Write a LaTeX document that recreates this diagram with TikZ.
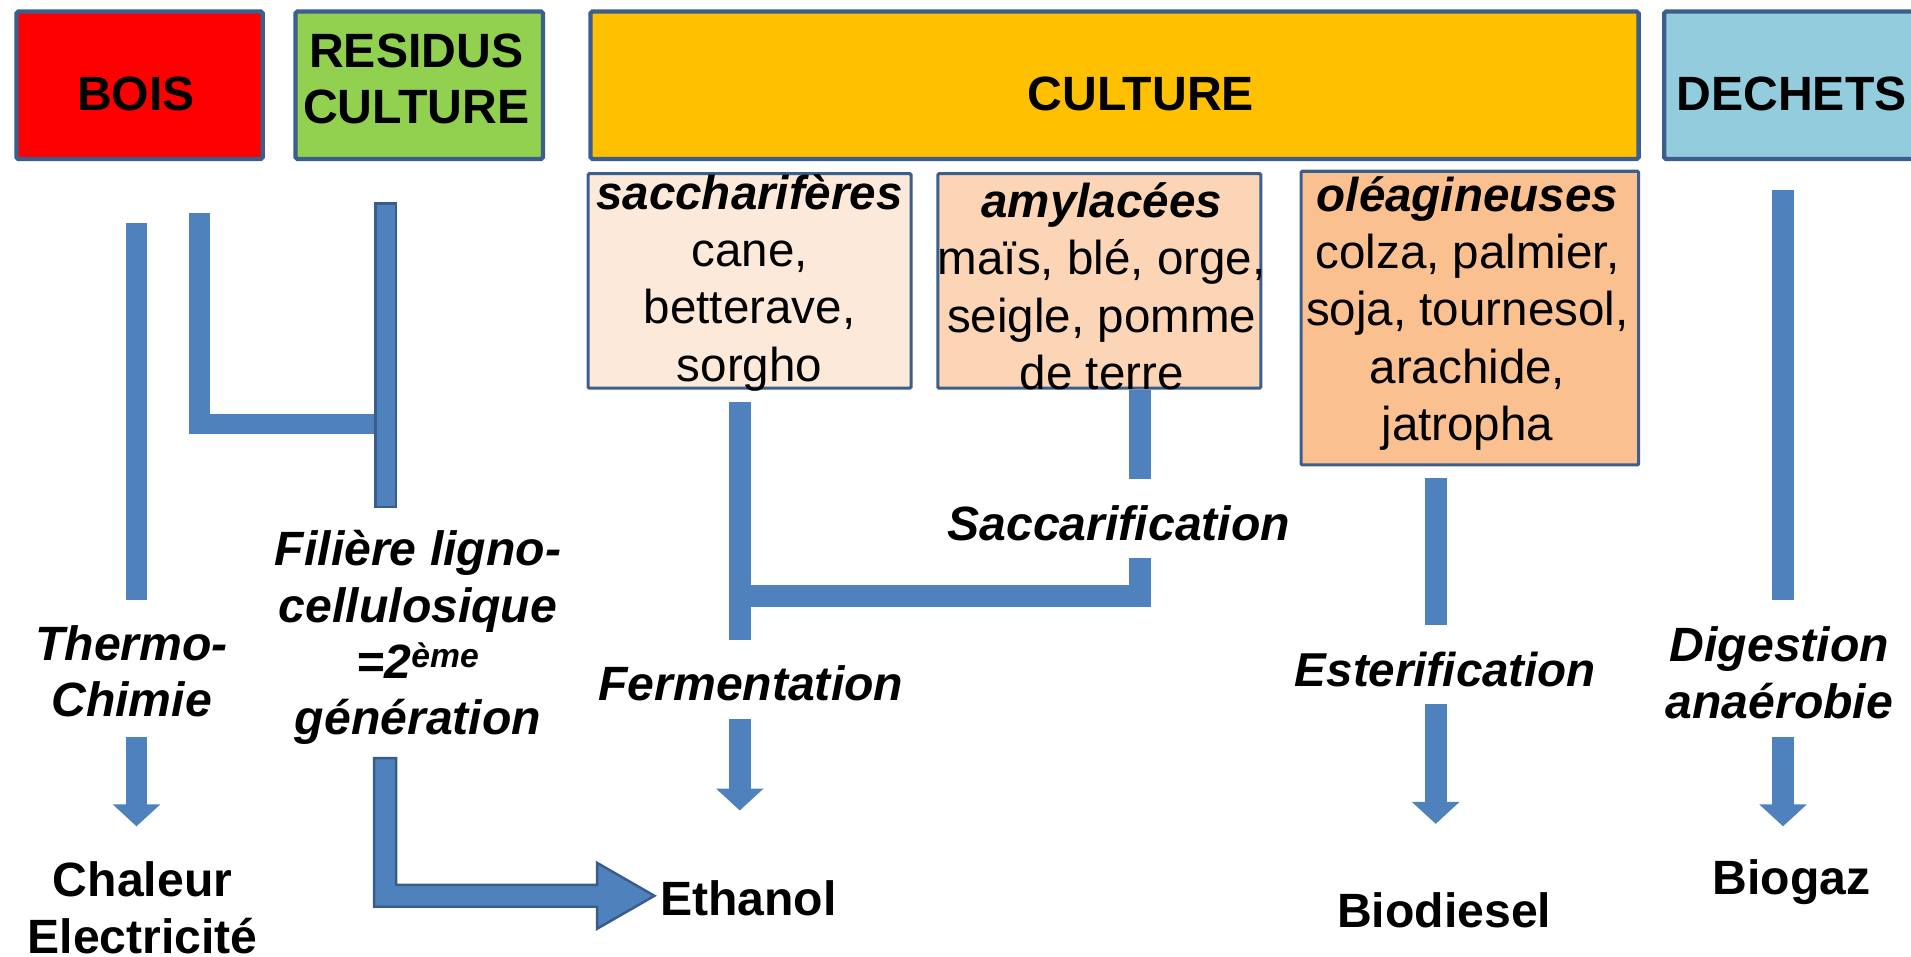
\documentclass[tikz,border=0pt]{standalone}
\usepackage{fontspec}
\setmainfont{Liberation Sans}
\usetikzlibrary{arrows.meta}
\definecolor{bord}{HTML}{3B5E8C}
\definecolor{arr}{HTML}{4F81BD}
\definecolor{arrdark}{HTML}{385D8A}
\definecolor{cred}{HTML}{FF0000}
\definecolor{cgreen}{HTML}{92D050}
\definecolor{corange}{HTML}{FFC000}
\definecolor{cblue}{HTML}{93CDDD}
\definecolor{cpa}{HTML}{FDE9D9}
\definecolor{cpb}{HTML}{FBD5B5}
\definecolor{cpc}{HTML}{FAC090}
\begin{document}
\begin{tikzpicture}[x=1pt,y=-1pt,
  topbox/.style={draw=bord, line width=3.5pt, rounded corners=1.5pt, inner sep=0pt},
  inbox/.style={draw=bord, line width=2.5pt, rounded corners=1pt, inner sep=0pt},
  hd/.style={font=\fontsize{39.5}{46}\selectfont\bfseries, align=center, inner sep=0pt},
  txt/.style={font=\fontsize{39}{47}\selectfont, align=center, inner sep=0pt},
  lab/.style={font=\fontsize{39.5}{46}\selectfont\bfseries\itshape, align=center, inner sep=0pt},
  res/.style={font=\fontsize{39.5}{47}\selectfont\bfseries, align=center, inner sep=0pt},
  bar/.style={draw=arr, line width=18pt},
  barar/.style={bar, -{Triangle[width=38pt,length=18pt]}},
  bigar/.style={fill=arr, draw=arrdark, line width=2pt, line join=miter},
]
\useasboundingbox (0,0) rectangle (1568,785);
\clip (0,0) rectangle (1568,785);
\fill[white] (0,0) rectangle (1568,785);

% top boxes
\node[topbox, fill=cred, minimum width=202pt, minimum height=121pt] (bois) at (114.5,70) {};
\node[hd] (boist) at (111.5,77) {BOIS};
\node[topbox, fill=cgreen, minimum width=203pt, minimum height=121pt] (resid) at (344,70) {};
\node[hd] (residt) at (341.5,65) {RESIDUS\\CULTURE};
\node[topbox, fill=corange, minimum width=860pt, minimum height=121pt] (cult) at (914.5,70) {};
\node[hd] (cultt) at (936,77) {CULTURE};
\node[topbox, fill=cblue, minimum width=240pt, minimum height=121pt] (dech) at (1485.5,70) {};
\node[hd] (decht) at (1470,77) {DECHETS};

% culture sub-boxes
\node[inbox, fill=cpa, minimum width=265pt, minimum height=176pt] (sac) at (615,230.5) {};
\node[txt] (sact) at (615,232) {\textbf{\textit{saccharifères}}\\cane,\\betterave,\\sorgho};
\node[inbox, fill=cpb, minimum width=265pt, minimum height=176pt] (amy) at (902,230.5) {};
\node[txt] (amyt) at (904,235) {\textbf{\textit{amylacées}}\\maïs, blé, orge,\\seigle, pomme\\de terre};
\node[inbox, fill=cpc, minimum width=277pt, minimum height=241pt] (ole) at (1206,261) {};
\node[txt] (olet) at (1204,257) {\textbf{\textit{oléagineuses}}\\colza, palmier,\\soja, tournesol,\\arachide,\\jatropha};

% process labels
\node[lab] (thermo) at (108,551) {Thermo-\\Chimie};
\node[lab] (filiere) at (343,523) {Filière ligno-\\cellulosique\\=2\textsuperscript{ème}\\génération};
\node[lab] (ferm) at (616,561) {Fermentation};
\node[lab] (sacc) at (918,429) {Saccarification};
\node[lab, font=\fontsize{39}{46}\selectfont\bfseries\itshape] (ester) at (1186,549) {Esterification};
\node[lab] (digest) at (1460,552) {Digestion\\anaérobie};

% products
\node[res] (chal) at (117,745) {Chaleur\\Electricité};
\node[res] (eth) at (614,737) {Ethanol};
\node[res] (biod) at (1185,747) {Biodiesel};
\node[res] (biog) at (1470,724) {Biogaz};

% BOIS branch
\coordinate (b1) at (112,183); \coordinate (b2) at (112,492);
\coordinate (b3) at (112,605); \coordinate (b4) at (112,678);
\draw[bar] (b1) -- (b2);
\draw[barar] (b3) -- (b4);

% L connector from residus side
\coordinate (l1) at (163.5,175); \coordinate (l2) at (308,348);
\draw[bar, line width=17pt, line join=miter] (l1) |- (l2);

% residus outlined bar
\node[draw=arrdark, fill=arr, line width=2pt, minimum width=17pt, minimum height=249pt, inner sep=0pt] (rbar) at (316.5,291.5) {};

% big block arrow to Ethanol
\coordinate (g1) at (307,622); \coordinate (g2) at (325,622);
\coordinate (g3) at (325,726); \coordinate (g4) at (490,726);
\coordinate (g5) at (490,708); \coordinate (g6) at (537,735);
\coordinate (g7) at (490,762); \coordinate (g8) at (490,744);
\coordinate (g9) at (307,744);
\draw[bigar] (g1) -- (g2) -- (g3) -- (g4) -- (g5) -- (g6) -- (g7) -- (g8) -- (g9) -- cycle;

% sucre / amidon branch
\coordinate (s1) at (607,330); \coordinate (s2) at (607,525);
\draw[bar] (s1) -- (s2);
\coordinate (a1) at (935,320); \coordinate (a2) at (935,393);
\draw[bar] (a1) -- (a2);
\coordinate (a3) at (935,458); \coordinate (j1) at (607,489);
\draw[bar, line join=miter] (a3) |- (j1);
\coordinate (f1) at (607,590); \coordinate (f2) at (607,665);
\draw[barar] (f1) -- (f2);

% oleagineuses branch
\coordinate (o1) at (1178,392); \coordinate (o2) at (1178,513);
\draw[bar] (o1) -- (o2);
\coordinate (o3) at (1178,578); \coordinate (o4) at (1178,676);
\draw[barar] (o3) -- (o4);

% dechets branch
\coordinate (d1) at (1463,156); \coordinate (d2) at (1463,492);
\draw[bar] (d1) -- (d2);
\coordinate (d3) at (1463,605); \coordinate (d4) at (1463,678);
\draw[barar] (d3) -- (d4);
\end{tikzpicture}
\end{document}
